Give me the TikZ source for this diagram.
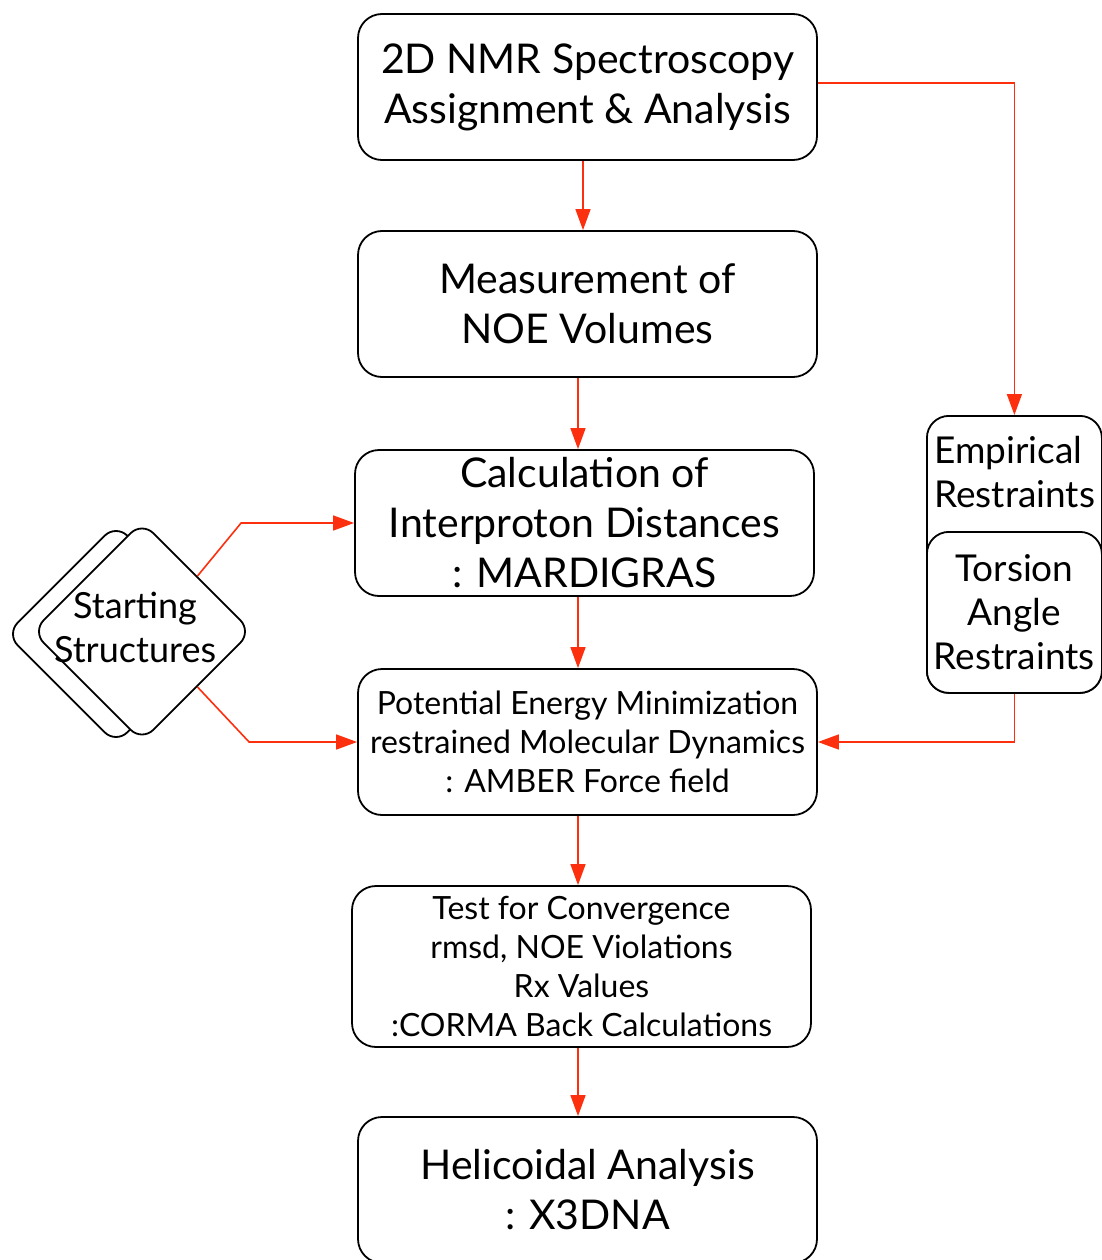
\documentclass[tikz,border=0pt]{standalone}
\usepackage{fontspec}
\setmainfont{Lato}
\usetikzlibrary{arrows.meta,positioning,shapes.geometric}
\definecolor{flowred}{RGB}{252,48,14}

\begin{document}
\begin{tikzpicture}[
  x=1pt, y=-1pt,
  stagebox/.style={rectangle, rounded corners=24pt, draw, line width=1.8pt,
                   minimum width=459pt, minimum height=146pt, align=center,
                   inner sep=0pt},
  bigtxt/.style={font=\fontsize{41}{50}\selectfont},
  midtxt/.style={font=\fontsize{32}{39}\selectfont},
  sidebox/.style={rectangle, rounded corners=22pt, draw, line width=1.8pt,
                  fill=white, minimum width=175pt, inner sep=0pt, align=center,
                  font=\fontsize{37}{44}\selectfont},
  startdiamond/.style={diamond, aspect=1, rounded corners=16pt, draw,
                       line width=1.8pt, fill=white, minimum size=220pt,
                       inner sep=0pt},
  arr/.style={-{Triangle[length=21pt,width=15pt]}, line width=1.6pt, flowred}
]
\useasboundingbox (0,0) rectangle (1102,1260);

% main column
\node[stagebox, bigtxt] (nmr) at (587.5,87)
  {2D NMR Spectroscopy\\Assignment \& Analysis};
\node[stagebox, bigtxt] (noe) at (587.5,304)
  {Measurement of\\NOE Volumes};
\node[stagebox, bigtxt] (calc) at (584.5,523)
  {Calculation of\\Interproton Distances\\: MARDIGRAS};
\node[stagebox, midtxt] (pem) at (587.5,742)
  {Potential Energy Minimization\\restrained Molecular Dynamics\\: AMBER Force field};
\node[stagebox, midtxt, minimum height=161pt] (conv) at (581.5,966.5)
  {Test for Convergence\\rmsd, NOE Violations\\Rx Values\\:CORMA Back Calculations};
\node[stagebox, bigtxt] (helix) at (587.5,1190)
  {Helicoidal Analysis\\: X3DNA};

% restraints on the right
\node[sidebox, minimum height=277pt, anchor=north west] (emp) at (926,415) {};
\node[anchor=north west, inner sep=0pt, align=left,
      font=\fontsize{37}{44}\selectfont] (emptxt) at (934,436)
  {Empirical\\Restraints};
\node[sidebox, minimum height=161pt, anchor=north west] (tor) at (926,531)
  {Torsion\\Angle\\Restraints};

% starting structures
\node[startdiamond] (startback) at (116,634) {};
\node[startdiamond] (start) at (142,631.5) {};
\node[align=center, inner sep=0pt, font=\fontsize{36}{44}\selectfont]
  (starttxt) at (135,627) {Starting\\Structures};

% connectors
\coordinate (spinetop) at (583,0);
\coordinate (spine) at (578,0);
\draw[arr] (nmr.south -| spinetop) -- (noe.north -| spinetop);
\draw[arr] (noe.south -| spine) -- (calc.north -| spine);
\draw[arr] (calc.south -| spine) -- (pem.north -| spine);
\draw[arr] (pem.south -| spine) -- (conv.north -| spine);
\draw[arr] (conv.south -| spine) -- (helix.north -| spine);
\draw[arr] ([yshift=4pt]nmr.east) -| (emp.north);
\draw[arr] (tor.south) |- (pem.east);
\draw[arr] (start.north east) -- ([xshift=-113pt]calc.west) -- (calc.west);
\draw[arr] (start.south east) -- ([xshift=-108pt]pem.west) -- (pem.west);
\end{tikzpicture}
\end{document}
